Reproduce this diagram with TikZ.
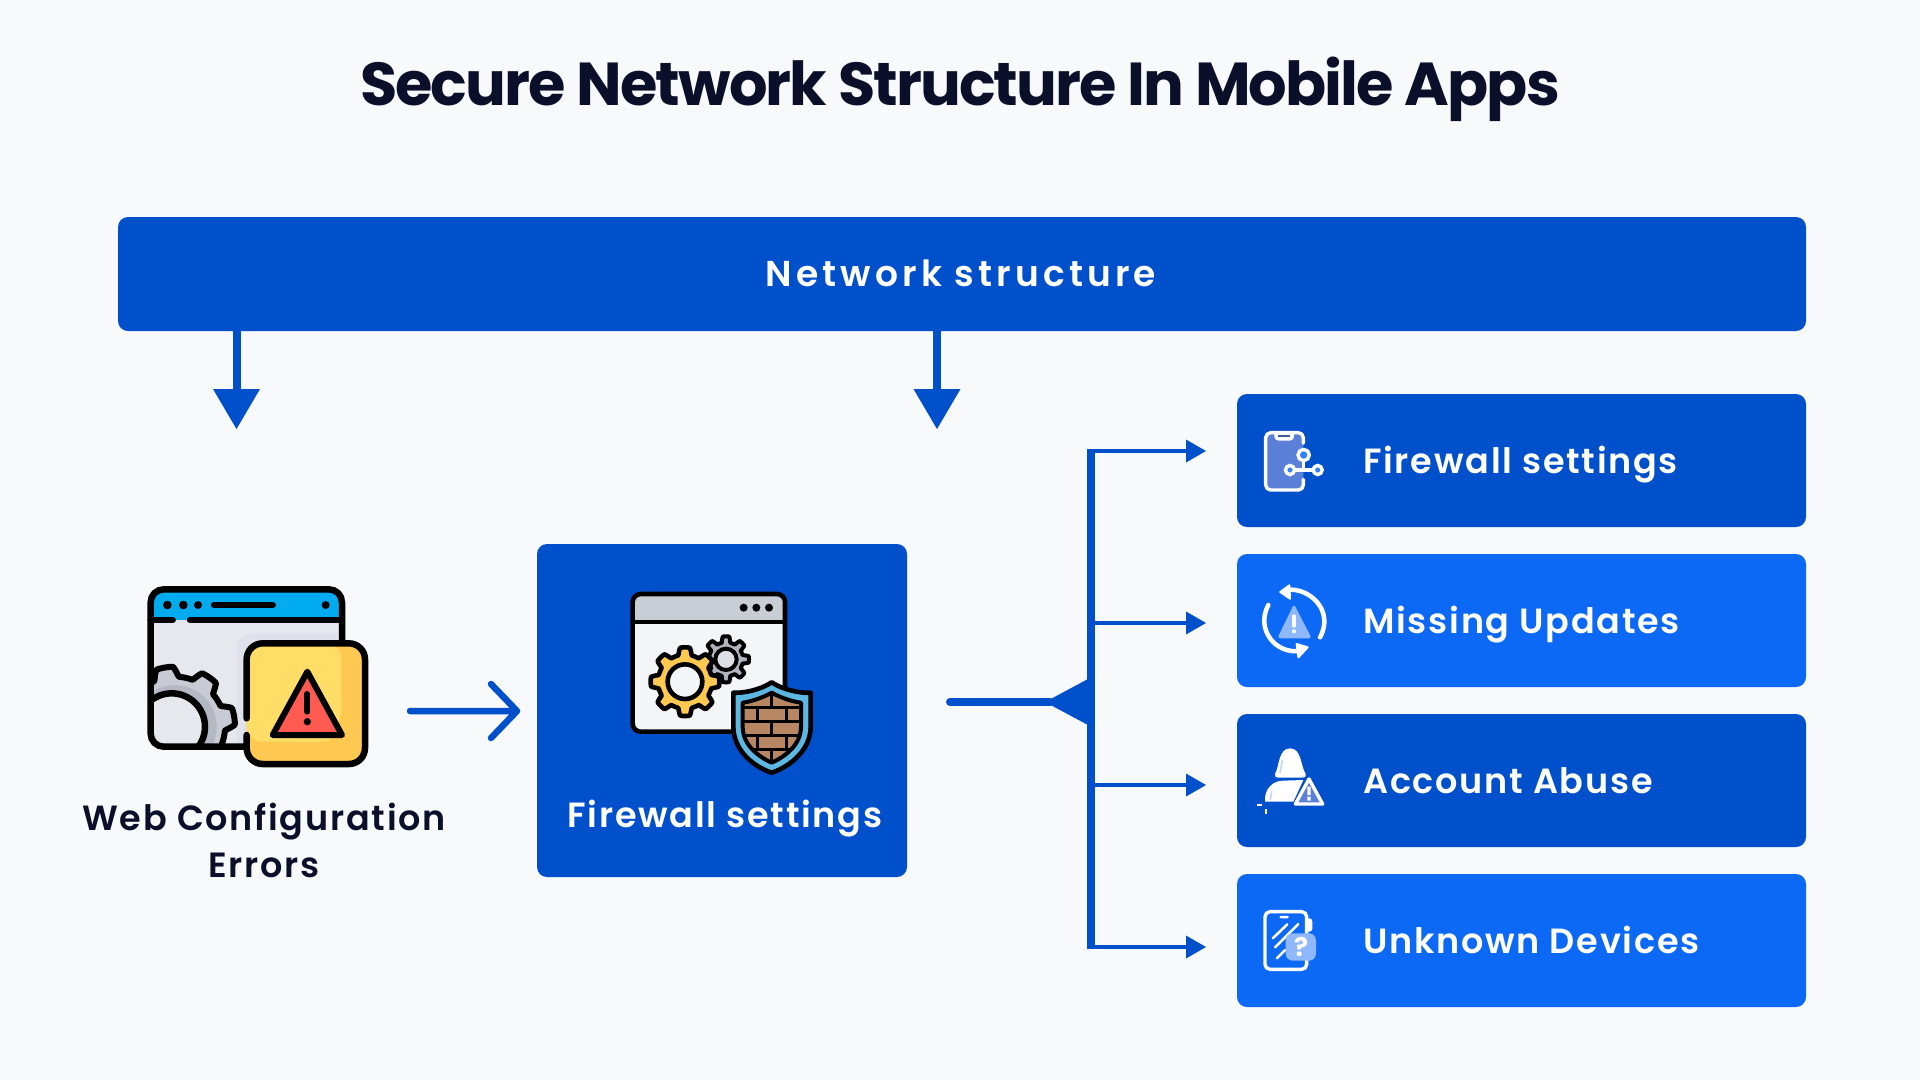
\documentclass[tikz,border=0pt]{standalone}
\usepackage{fontspec}
\usetikzlibrary{arrows.meta,calc}
\setmainfont{Poppins}
\newfontfamily\titlefont[LetterSpace=-3.2]{Poppins}
\newfontfamily\labfont[LetterSpace=5]{Poppins SemiBold}
\newfontfamily\barfont[LetterSpace=11.5]{Poppins SemiBold}
\definecolor{bg}{HTML}{F8F9FA}
\definecolor{dkblue}{HTML}{0050CB}
\definecolor{ltblue}{HTML}{0C69F6}
\definecolor{ink}{HTML}{0B0F2A}
\definecolor{winbody}{HTML}{E6E8EE}
\definecolor{winsh}{HTML}{DFE2EA}
\definecolor{gearbase}{HTML}{C8CBD3}
\definecolor{gearshade}{HTML}{B4B8C2}
\definecolor{cyanb}{HTML}{00ACEF}
\definecolor{yel}{HTML}{FFDD67}
\definecolor{yeld}{HTML}{FFC850}
\definecolor{redw}{HTML}{FF5A52}
\definecolor{brick}{HTML}{B78763}
\definecolor{shring}{HTML}{5CB8E2}
\definecolor{paleb}{HTML}{8FB7FB}
\definecolor{paled}{HTML}{5B80D8}
\definecolor{fwbody}{HTML}{F4F5F7}
\definecolor{fwhead}{HTML}{C9CED6}
\definecolor{gearsm}{HTML}{B0B4BC}
\definecolor{gearin}{HTML}{DDE0E5}
\newcommand\gearat[6]{\path[#6,shift={(#1,#2)}] plot[domain=0:360,samples=241,variable=\t] (\t:{#3+#4*max(-1,min(1,2.4*cos(8*(\t-#5))))}) -- cycle;}
\tikzset{
 bluebox/.style={rectangle,rounded corners=10pt,inner sep=0pt,draw=none},
 blab/.style={font=\labfont\fontsize{35}{40}\selectfont,text=white,inner sep=0pt,anchor=base},
 klab/.style={font=\labfont\fontsize{35}{40}\selectfont,text=ink,inner sep=0pt,anchor=base},
 thick arrow/.style={draw=dkblue,line width=8pt,-{Triangle[length=40pt,width=47pt,line width=0pt]}},
 thin arrow/.style={draw=dkblue,line width=4.5pt,-{Triangle[length=20pt,width=23pt,line width=0pt]}},
 wl/.style={draw=white,line width=3.4pt,line cap=round,line join=round},
 kl/.style={draw=black,line cap=round,line join=round},
}
\begin{document}
\begin{tikzpicture}[x=1pt,y=-1pt]
\useasboundingbox (0,0) rectangle (1920,1080);
\fill[bg] (0,0) rectangle (1920,1080);
\node[font=\titlefont\bfseries\fontsize{60.6}{66}\selectfont,text=ink,inner sep=0pt] (title) at (960,89) {Secure Network Structure In Mobile Apps};
\node[bluebox,fill=dkblue,minimum width=1688pt,minimum height=114pt] (bar) at (962,274) {};
\node[blab,font=\barfont\fontsize{36}{40}\selectfont] (barlab) at (961,286) {Network structure};
\node[bluebox,fill=dkblue,minimum width=370pt,minimum height=333pt] (mid) at (722,710.5) {};
\node[blab] (midlab) at (725,827) {Firewall settings};
\node[bluebox,fill=dkblue,minimum width=569pt,minimum height=133pt] (b1) at (1521.5,460.5) {};
\node[bluebox,fill=ltblue,minimum width=569pt,minimum height=133pt] (b2) at (1521.5,620.5) {};
\node[bluebox,fill=dkblue,minimum width=569pt,minimum height=133pt] (b3) at (1521.5,780.5) {};
\node[bluebox,fill=ltblue,minimum width=569pt,minimum height=133pt] (b4) at (1521.5,940.5) {};
\node[blab,anchor=base west] (t1) at (1363,473) {Firewall settings};
\node[blab,anchor=base west] (t2) at (1363,633) {Missing Updates};
\node[blab,anchor=base west] (t3) at (1363,793) {Account Abuse};
\node[blab,anchor=base west] (t4) at (1363,953) {Unknown Devices};
\node[klab] (web1) at (264,830) {Web Configuration};
\node[klab] (web2) at (264,877) {Errors};
% down arrows
\coordinate (d1) at (236.5,429);
\coordinate (d2) at (937,429);
\draw[thick arrow] (d1 |- bar.south) -- (d1);
\draw[thick arrow] (d2 |- bar.south) -- (d2);
% left arrow
\coordinate (la) at (410,711);
\coordinate (lb) at (517,711);
\draw[dkblue,line width=6.5pt,line cap=round,line join=round] (la) -- (lb) (491,684) -- (lb) -- (491,738);
% tree
\coordinate (hub) at (1091,702);
\coordinate (tail) at (950,702);
\coordinate (ttop) at (1091,449);
\coordinate (tbot) at (1091,949);
\coordinate (a1) at (1206,451);
\coordinate (a2) at (1206,623);
\coordinate (a3) at (1206,785);
\coordinate (a4) at (1206,947);
\draw[dkblue,line width=8pt] (ttop) -- (tbot);
\draw[dkblue,line width=8pt,line cap=round] (tail) -- (1050,702);
\fill[dkblue] (1045,702) -- (1088,679) -- (1088,725) -- cycle;
\foreach \a in {a1,a2,a3,a4}{\draw[thin arrow] (hub |- \a) -- (\a);}
% ===== icon web config
\begin{scope}[shift={(130,570)},scale=1/3]
 \begin{scope}
  \clip[rounded corners=13pt] (62,58) rectangle (636,530);
  \fill[winbody] (62,58) rectangle (636,530);
  \fill[winsh] (320,230) .. controls (320,205) and (350,190) .. (380,190) -- (636,190) -- (636,530) -- (320,530) -- cycle;
  \fill[cyanb] (62,58) rectangle (636,150);
  \gearat{135}{470}{165}{15}{-10}{fill=gearbase,draw=black,line width=6pt,line join=round}
  \fill[gearshade] (135,470) circle (125);
  \draw[black,line width=6.5pt,fill=winbody] (125,470) circle (100);
 \end{scope}
 \draw[black,line width=6.5pt,rounded corners=13pt] (62,58) rectangle (636,530);
 \draw[kl,line width=6.5pt] (62,150) -- (128,150) (180,150) -- (636,150);
 \fill (112,105) circle (13) (160,105) circle (13) (204,105) circle (12) (587,105) circle (12);
 \draw[kl,line width=6.5pt] (252,105) -- (428,105);
 % warning card
 \fill[yeld,rounded corners=16pt] (350,220) rectangle (705,582);
 \fill[yel,rounded corners=16pt] (350,220) -- (635,220) -- (635,360) .. controls (635,440) and (610,515) .. (540,515) -- (350,515) -- cycle;
 \draw[kl,line width=6.5pt,rounded corners=16pt] (350,445) -- (350,220) -- (705,220) -- (705,582) -- (350,582) -- (350,495);
 \draw[kl,line width=6pt,fill=redw] (532,305) -- (428,495) -- (636,495) -- cycle;
 \draw[kl,line width=6pt] (532,372) -- (532,425);
 \fill (532,455) circle (11);
\end{scope}
% ===== icon firewall
\begin{scope}[shift={(600,570)},scale=1/3]
 \fill[fwbody,rounded corners=8pt] (98,72) rectangle (555,485);
 \begin{scope}
  \clip[rounded corners=8pt] (98,72) rectangle (555,485);
  \fill[fwhead] (98,72) rectangle (555,155);
 \end{scope}
 \draw[black,line width=4.6pt,rounded corners=8pt] (98,72) rectangle (555,485);
 \draw[black,line width=4pt] (98,155) -- (555,155);
 \fill (431,113) circle (12) (469,113) circle (12) (507,113) circle (12);
 \gearat{378}{268}{60}{9}{0}{fill=gearsm,draw=black,line width=4pt,line join=round}
 \draw[black,line width=4pt,fill=gearin] (378,268) circle (32);
 \gearat{255}{335}{92}{11}{0}{fill=yeld,draw=black,line width=4.6pt,line join=round}
 \draw[black,line width=4.6pt,fill=fwbody] (255,335) circle (52);
 % shield
 \path[fill=shring,draw=black,line width=4.6pt,line join=round] (515,337) .. controls (550,360) and (600,370) .. (632,368) -- (632,470) .. controls (632,540) and (570,590) .. (515,608) .. controls (460,590) and (400,540) .. (400,470) -- (400,368) .. controls (430,370) and (480,360) .. (515,337) -- cycle;
 \def\inshield{(515,368) .. controls (545,385) and (580,395) .. (603,398) -- (603,470) .. controls (603,525) and (555,560) .. (515,578) .. controls (475,560) and (428,525) .. (428,470) -- (428,398) .. controls (450,395) and (485,385) .. (515,368) -- cycle}
 \fill[brick] \inshield;
 \begin{scope}
  \clip \inshield;
  \draw[black,line width=3.5pt] (400,412) -- (630,412) (400,455) -- (630,455) (400,497) -- (630,497) (400,538) -- (630,538)
   (515,360) -- (515,412) (472,412) -- (472,455) (560,412) -- (560,455) (515,455) -- (515,497) (472,497) -- (472,538) (560,497) -- (560,538) (515,538) -- (515,590);
 \end{scope}
 \draw[black,line width=4pt,line join=round] \inshield;
\end{scope}
% ===== icon phone nodes
\begin{scope}[shift={(1240,410)},scale=1/3]
 \fill[paled,rounded corners=5pt] (77,68) rectangle (190,240);
 \draw[wl,rounded corners=5pt] (190,100) -- (190,68) -- (77,68) -- (77,240) -- (190,240) -- (190,208);
 \fill[white] (103,68) -- (103,76) .. controls (103,86) and (108,92) .. (115,92) -- (150,92) .. controls (157,92) and (162,86) .. (162,76) -- (162,68) -- cycle;
 \draw[draw=paled!70!black,line width=2pt] (115,77) -- (150,77);
 \draw[wl] (191,152) -- (191,180) (165,180) -- (218,180);
 \draw[wl,fill=ltblue!70!paleb] (191,135) circle (17);
 \draw[wl,fill=ltblue!70!paleb,rounded corners=5pt] (136,166) rectangle (164,194);
 \draw[wl,fill=ltblue!70!paleb,rounded corners=5pt] (219,166) rectangle (247,194);
\end{scope}
% ===== icon updates
\begin{scope}[shift={(1240,410)},scale=1/3]
 \fill[paleb,rounded corners=3pt] (162,582) -- (112,685) -- (215,685) -- cycle;
 \draw[white,line width=3.4pt,line cap=round] (162,618) -- (162,648);
 \fill[white] (162,664) circle (6);
 \draw[wl,line width=4.5pt] (140,540) .. controls (205,530) and (285,600) .. (240,682);
 \draw[wl,line width=4.5pt] (85,585) .. controls (45,660) and (110,735) .. (180,722);
 \fill[white,draw=white,line width=2pt,line join=round] (121,546) -- (148,526) -- (150,566) -- cycle;
 \fill[white,draw=white,line width=2pt,line join=round] (203,712) -- (175,742) -- (170,702) -- cycle;
\end{scope}
% ===== icon account
\begin{scope}[shift={(1240,730)},scale=1/3]
 \fill[white] (105,132) .. controls (118,110) and (115,55) .. (150,55) .. controls (185,55) and (182,110) .. (197,132) .. controls (200,142) and (190,143) .. (185,143) -- (115,143) .. controls (108,143) and (103,140) .. (105,132) -- cycle;
 \fill[white] (75,215) .. controls (72,175) and (100,152) .. (130,152) -- (190,150) -- (160,215) -- cycle;
 \draw[paleb!60!white,line width=1.5pt,line cap=round] (120,128) -- (127,92) (91,208) -- (95,185);
 \path[fill=paled,draw=white,line width=3.4pt,line join=round] (207,147) -- (166,222) -- (248,222) -- cycle;
 \fill[white] (202,170) rectangle (212,195) (202,200) rectangle (212,212);
 \draw[white,line width=2pt] (52,225) -- (67,225) (77,237) -- (77,251);
\end{scope}
% ===== icon device
\begin{scope}[shift={(1240,730)},scale=1/3]
 \fill[white,rounded corners=3pt] (195,565) rectangle (217,605);
 \draw[wl,fill=ltblue,rounded corners=5pt] (75,545) rectangle (200,718);
 \draw[wl,line width=2.5pt] (122,561) -- (143,561) (98,625) -- (142,583) (105,652) -- (175,582) (110,685) -- (135,660);
 \fill[paleb,rounded corners=7pt] (137,610) rectangle (228,692);
 \node[text=white,font=\bfseries\fontsize{26}{28}\selectfont,inner sep=0pt] (qm) at (183,652) {?};
\end{scope}
\end{tikzpicture}
\end{document}
